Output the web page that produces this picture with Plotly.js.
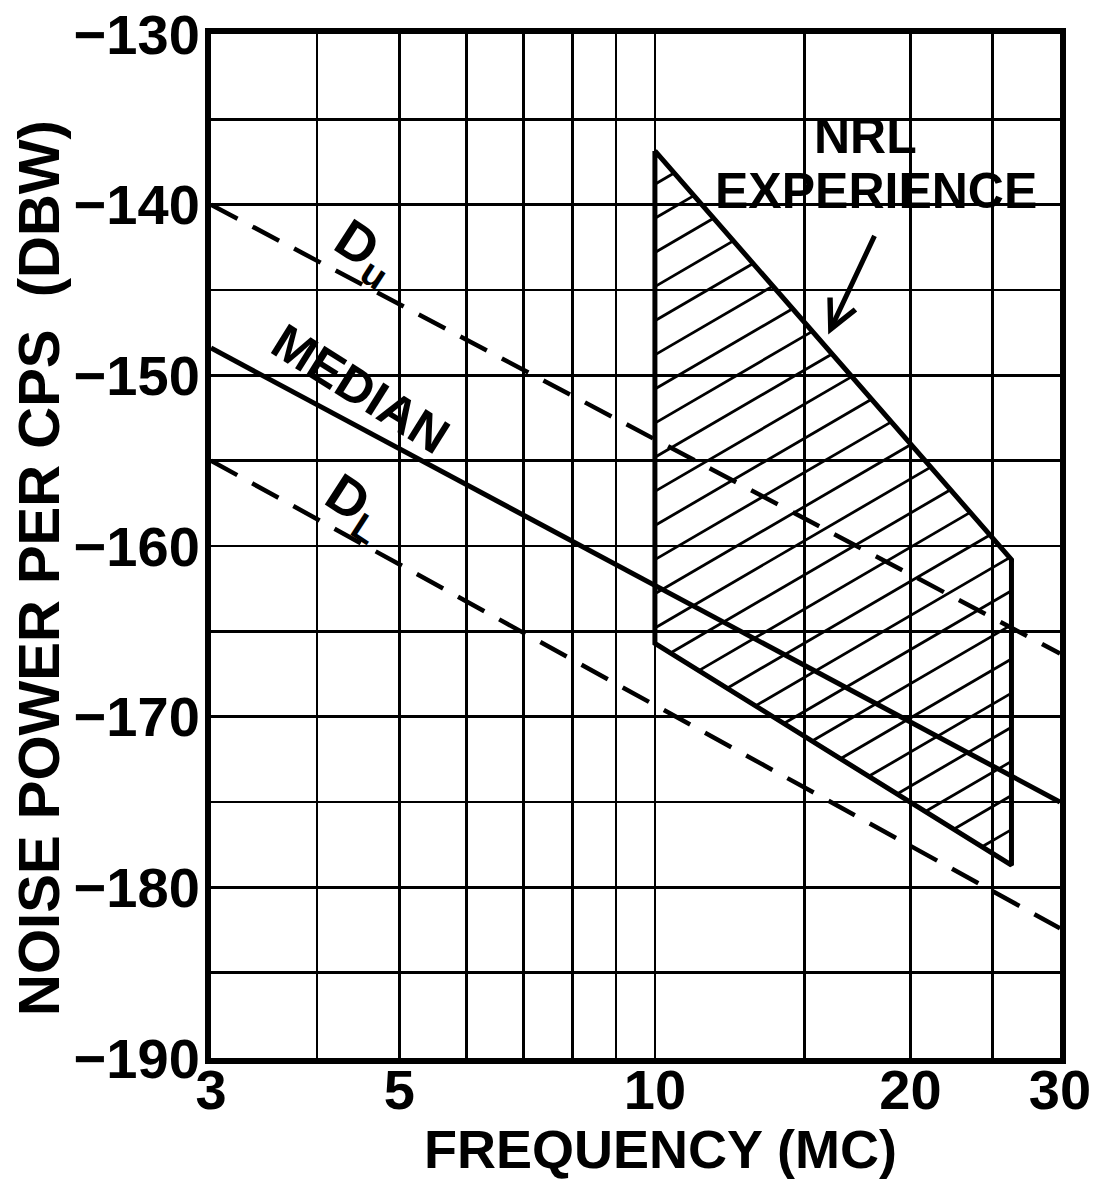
<!DOCTYPE html>
<html><head><meta charset="utf-8">
<script src="https://cdn.plot.ly/plotly-3.0.1.min.js"></script>
<style>html,body{margin:0;padding:0;background:#fff}</style>
</head><body><div id="chart" style="width:1099px;height:1183px"></div>
<script>
// ---- data ----
const freqEnds = [3, 30];                     // MC
const duPower = [-140, -166.3];               // upper decile D_u (dBW per cps)
const medianPower = [-148.4, -175];           // median
const dlPower = [-155, -182.4];               // lower decile D_L
const nrlFreq = [10, 26.3, 26.3, 10, 10];     // NRL experience region outline
const nrlPower = [-136.85, -160.8, -178.7, -165.7, -136.85];

const xGridVals = [3, 4, 5, 6, 7, 8, 9, 10, 15, 20, 25, 30];
const xTickText = ['3', '', '5', '', '', '', '', '10', '', '20', '', '30'];
const yGridVals = [-190, -185, -180, -175, -170, -165, -160, -155, -150, -145, -140, -135, -130];
const yTickText = ['\u2212190', '', '\u2212180', '', '\u2212170', '', '\u2212160', '', '\u2212150', '', '\u2212140', '', '\u2212130'];
const xTitle = 'FREQUENCY (MC)';
const yTitle = 'NOISE POWER PER CPS\u00A0\u00A0(DBW)';

// ---- hatch style (drawing style, not data) ----
const HATCH_SLOPE = 29;    // dB per decade (about 30 degrees on the page)
const HATCH_STEP = 2.0;    // dB between hatch lines
const HATCH_PHASE = -138.8;// a hatch line passes here at 10 MC

function hatchLines() {
  const pts = nrlFreq.map((f, i) => [Math.log10(f), nrlPower[i]]);
  const g = (p, c) => p[1] - (c + HATCH_SLOPE * (p[0] - 1));
  const vals = pts.map(p => p[1] - HATCH_SLOPE * (p[0] - 1));
  const cmin = Math.min(...vals), cmax = Math.max(...vals);
  const xs = [], ys = [];
  const k0 = Math.ceil((cmin - HATCH_PHASE) / HATCH_STEP);
  const k1 = Math.floor((cmax - HATCH_PHASE) / HATCH_STEP);
  for (let k = k0; k <= k1; k++) {
    const c = HATCH_PHASE + k * HATCH_STEP;
    const hits = [];
    for (let i = 0; i < pts.length - 1; i++) {
      const a = pts[i], b = pts[i + 1];
      const ga = g(a, c), gb = g(b, c);
      if ((ga <= 0 && gb > 0) || (ga > 0 && gb <= 0)) {
        const t = ga / (ga - gb);
        hits.push([a[0] + t * (b[0] - a[0]), a[1] + t * (b[1] - a[1])]);
      }
    }
    if (hits.length >= 2) {
      hits.sort((p, q) => p[0] - q[0]);
      const h0 = hits[0], h1 = hits[hits.length - 1];
      xs.push(Math.pow(10, h0[0]), Math.pow(10, h1[0]), null);
      ys.push(h0[1], h1[1], null);
    }
  }
  return { xs, ys };
}
const hatch = hatchLines();

const FONT = 'Liberation Sans, Arial, sans-serif';

const traces = [
  { x: hatch.xs, y: hatch.ys, mode: 'lines', line: { color: '#000', width: 2.8 }, hoverinfo: 'skip', name: 'hatch' },
  { x: nrlFreq, y: nrlPower, mode: 'lines', line: { color: '#000', width: 5 }, name: 'NRL experience' },
  { x: freqEnds, y: duPower, mode: 'lines', line: { color: '#000', width: 4.5, dash: '30px,17px' }, name: 'Du' },
  { x: freqEnds, y: medianPower, mode: 'lines', line: { color: '#000', width: 5 }, name: 'Median' },
  { x: freqEnds, y: dlPower, mode: 'lines', line: { color: '#000', width: 4.5, dash: '30px,17px' }, name: 'DL' }
];

const axisCommon = {
  showgrid: true, gridcolor: '#000', gridwidth: 2.8,
  showline: true, mirror: true, linecolor: '#000', linewidth: 6,
  ticks: '', ticklen: 0, zeroline: false, tickmode: 'array',
  ticklabeloverflow: 'allow',
  tickfont: { family: FONT, size: 56, color: '#000', weight: 'bold' }
};

const layout = {
  width: 1099, height: 1183,
  margin: { l: 211, r: 39, t: 34, b: 125 },
  paper_bgcolor: '#fff', plot_bgcolor: '#fff',
  showlegend: false,
  font: { family: FONT, color: '#000' },
  xaxis: Object.assign({}, axisCommon, {
    type: 'log', range: [Math.log10(3), Math.log10(30)],
    tickvals: xGridVals, ticktext: xTickText,
    ticklabelstandoff: -22
  }),
  yaxis: Object.assign({}, axisCommon, {
    range: [-190.001, -129.999],
    tickvals: yGridVals, ticktext: yTickText,
    ticklabelstandoff: -6
  }),
  annotations: [
    { xref: 'paper', yref: 'paper', x: 0.529, y: -0.089, xanchor: 'center', yanchor: 'middle',
      text: xTitle, showarrow: false, font: { family: FONT, size: 54, color: '#000', weight: 'bold' } },
    { xref: 'paper', yref: 'paper', x: -0.2026, y: 0.4786, xanchor: 'center', yanchor: 'middle', textangle: -90,
      text: yTitle, showarrow: false, font: { family: FONT, size: 58, color: '#000', weight: 'bold' } },
    { x: Math.log10(4.55), y: -142.8, xref: 'x', yref: 'y', text: 'D<sub>u</sub>', showarrow: false, textangle: 33,
      font: { family: FONT, size: 54, color: '#000', weight: 'bold' } },
    { x: Math.log10(4.5), y: -150.8, xref: 'x', yref: 'y', text: 'MEDIAN', showarrow: false, textangle: 32,
      font: { family: FONT, size: 50, color: '#000', weight: 'bold' } },
    { x: Math.log10(4.45), y: -157.7, xref: 'x', yref: 'y', text: 'D<sub>L</sub>', showarrow: false, textangle: 33,
      font: { family: FONT, size: 54, color: '#000', weight: 'bold' } },
    { x: Math.log10(17.7), y: -136.0, xref: 'x', yref: 'y', text: 'NRL', showarrow: false,
      font: { family: FONT, size: 50, color: '#000', weight: 'bold' } },
    { x: Math.log10(18.2), y: -139.2, xref: 'x', yref: 'y', text: 'EXPERIENCE', showarrow: false,
      font: { family: FONT, size: 50, color: '#000', weight: 'bold' } },
    { x: Math.log10(16.0), y: -147.6, xref: 'x', yref: 'y', text: '', showarrow: true,
      ax: 47, ay: -100, arrowhead: 5, arrowsize: 1.1, arrowwidth: 5, arrowcolor: '#000' }
  ]
};

Plotly.newPlot('chart', traces, layout, { staticPlot: true, displayModeBar: false });
</script>
</body></html>
